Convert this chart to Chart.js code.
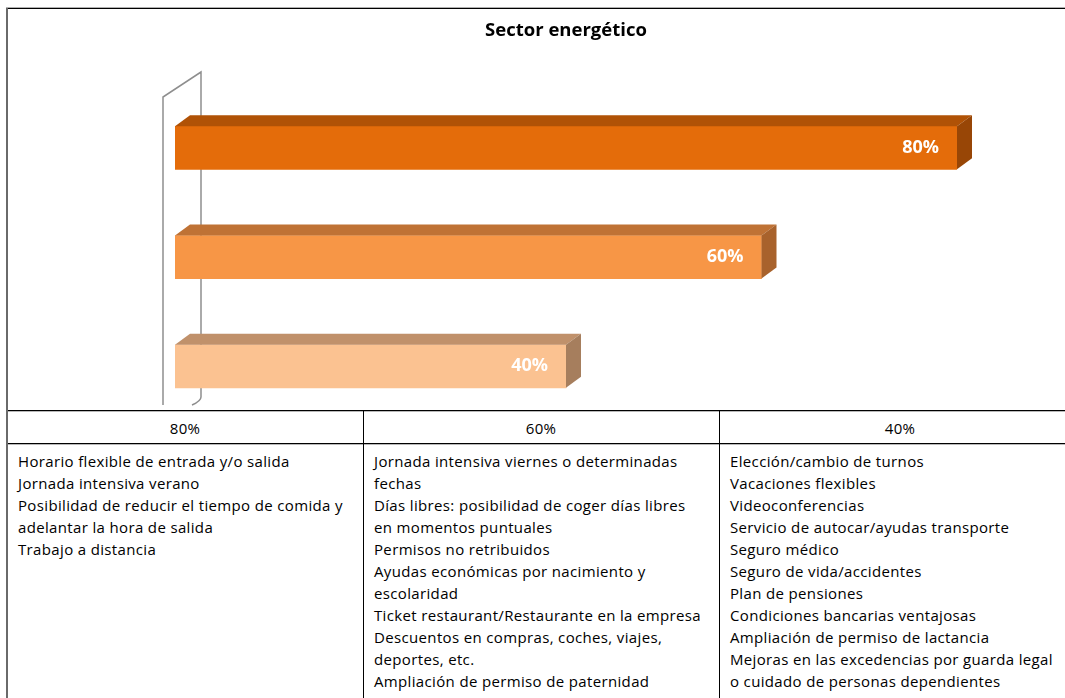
<!DOCTYPE html>
<html>
<head>
<meta charset="utf-8">
<script src="https://cdn.jsdelivr.net/npm/chart.js@4"></script>
<style>
  html, body { margin:0; padding:0; background:#fff; width:1065px; height:698px; overflow:hidden; font-family: "Open Sans", Lato, sans-serif; }
  #wrap { position:absolute; left:0; top:0; width:1065px; height:430px; }
  #topline { position:absolute; left:6px; top:7px; width:1059px; height:1px; background:#b0b0b0; border-bottom:1px solid #000; z-index:3; }
  #leftline { position:absolute; left:6px; top:8px; width:2px; height:690px; background:#6a6a6a; z-index:3; }
  #table { position:absolute; left:0; top:410px; width:1065px; height:288px; background:#fff; z-index:2; }
  .hline { position:absolute; left:7px; width:1058px; height:1px; background:#000; }
  .hline.shade { background:#b8b8b8; }
  .vline { position:absolute; width:1px; background:#000; top:1px; height:287px; }
  .head { position:absolute; top:7px; height:22px; line-height:22px; text-align:center; font-size:15px; letter-spacing:0.3px; color:#000; }
  .cell { position:absolute; top:40px; white-space:nowrap; font-size:15px; letter-spacing:0.35px; line-height:22px; color:#000; }
</style>
</head>
<body>
<div id="wrap"><canvas id="c" width="1065" height="430"></canvas></div>
<div id="topline"></div>
<div id="leftline"></div>
<div id="table"></div>
<script>
// ---- data ----
const title = 'Sector energético';
const categories = ['80%', '60%', '40%'];
const values = [80, 60, 40];
const tableHeaders = ['80%', '60%', '40%'];
const items80 = [
  'Horario flexible de entrada y/o salida',
  'Jornada intensiva verano',
  'Posibilidad de reducir el tiempo de comida y',
  'adelantar la hora de salida',
  'Trabajo a distancia'
];
const items60 = [
  'Jornada intensiva viernes o determinadas',
  'fechas',
  'Días libres: posibilidad de coger días libres',
  'en momentos puntuales',
  'Permisos no retribuidos',
  'Ayudas económicas por nacimiento y',
  'escolaridad',
  'Ticket restaurant/Restaurante en la empresa',
  'Descuentos en compras, coches, viajes,',
  'deportes, etc.',
  'Ampliación de permiso de paternidad'
];
const items40 = [
  'Elección/cambio de turnos',
  'Vacaciones flexibles',
  'Videoconferencias',
  'Servicio de autocar/ayudas transporte',
  'Seguro médico',
  'Seguro de vida/accidentes',
  'Plan de pensiones',
  'Condiciones bancarias ventajosas',
  'Ampliación de permiso de lactancia',
  'Mejoras en las excedencias por guarda legal',
  'o cuidado de personas dependientes'
];

// ---- styles ----
const frontColors = ['#E46C0A', '#F79646', '#FBC291'];
const topColors   = ['#B05206', '#BF7235', '#C0916B'];
const sideColors  = ['#984606', '#A8622C', '#A67E5D'];
const DEPTH_X = 15, DEPTH_Y = 11;
const FONT = '"Open Sans", Lato, sans-serif';

// ---- table ----
(function buildTable() {
  const t = document.getElementById('table');
  const colX = [7, 363, 719, 1081];
  const addLine = (cls, top) => {
    const d = document.createElement('div'); d.className = cls; d.style.top = top + 'px'; t.appendChild(d);
  };
  addLine('hline', 0); addLine('hline shade', 1);
  addLine('hline', 33); addLine('hline shade', 34);
  [363, 719].forEach(x => {
    const v = document.createElement('div'); v.className = 'vline'; v.style.left = x + 'px'; t.appendChild(v);
  });
  const cols = [items80, items60, items40];
  for (let i = 0; i < 3; i++) {
    const hd = document.createElement('div');
    hd.className = 'head';
    hd.style.left = colX[i] + 'px';
    hd.style.width = (colX[i + 1] - colX[i]) + 'px';
    hd.textContent = tableHeaders[i];
    t.appendChild(hd);
    const c = document.createElement('div');
    c.className = 'cell';
    c.style.left = (colX[i] + 11) + 'px';
    cols[i].forEach(line => {
      const d = document.createElement('div');
      d.textContent = line;
      c.appendChild(d);
    });
    t.appendChild(c);
  }
})();

// ---- 3D plugin ----
const threeD = {
  id: 'threeD',
  beforeDatasetsDraw(chart) {
    const ctx = chart.ctx;
    const a = chart.chartArea;
    const front = a.left - 12, back = a.left + 26;
    ctx.save();
    ctx.strokeStyle = '#8e8e8e';
    ctx.lineWidth = 1.5;
    ctx.beginPath();
    ctx.moveTo(front, 405);
    ctx.lineTo(front, 97);
    ctx.lineTo(back, 72);
    ctx.lineTo(back, 397);
    ctx.quadraticCurveTo(back, 401, back - 9, 405);
    ctx.stroke();
    ctx.restore();
  },
  afterDatasetsDraw(chart) {
    const ctx = chart.ctx;
    const meta = chart.getDatasetMeta(0);
    ctx.save();
    meta.data.forEach((bar, i) => {
      const x0 = bar.base, x1 = bar.x;
      const yT = bar.y - bar.height / 2, yB = bar.y + bar.height / 2;
      ctx.fillStyle = topColors[i];
      ctx.beginPath();
      ctx.moveTo(x0, yT);
      ctx.lineTo(x0 + DEPTH_X, yT - DEPTH_Y);
      ctx.lineTo(x1 + DEPTH_X, yT - DEPTH_Y);
      ctx.lineTo(x1, yT);
      ctx.closePath();
      ctx.fill();
      ctx.fillStyle = sideColors[i];
      ctx.beginPath();
      ctx.moveTo(x1, yT);
      ctx.lineTo(x1 + DEPTH_X, yT - DEPTH_Y);
      ctx.lineTo(x1 + DEPTH_X, yB - DEPTH_Y);
      ctx.lineTo(x1, yB);
      ctx.closePath();
      ctx.fill();
      ctx.fillStyle = '#ffffff';
      ctx.font = 'bold 18px ' + FONT;
      ctx.textAlign = 'right';
      ctx.textBaseline = 'middle';
      ctx.fillText(values[i] + '%', x1 - 18, bar.y);
    });
    ctx.restore();
  }
};

new Chart(document.getElementById('c'), {
  type: 'bar',
  data: {
    labels: categories,
    datasets: [{
      data: values,
      backgroundColor: frontColors,
      borderWidth: 0,
      barThickness: 43
    }]
  },
  options: {
    indexAxis: 'y',
    responsive: false,
    animation: false,
    layout: { padding: { left: 175, right: 108, top: 0, bottom: 9 } },
    scales: {
      x: { display: false, min: 0, max: 80 },
      y: { display: false }
    },
    plugins: {
      legend: { display: false },
      tooltip: { enabled: false },
      title: {
        display: true,
        text: title,
        color: '#000',
        font: { family: FONT, size: 18.5, weight: 'bold', lineHeight: 1.2 },
        padding: { top: 20, bottom: 51 }
      }
    }
  },
  plugins: [threeD]
});
</script>
</body>
</html>
